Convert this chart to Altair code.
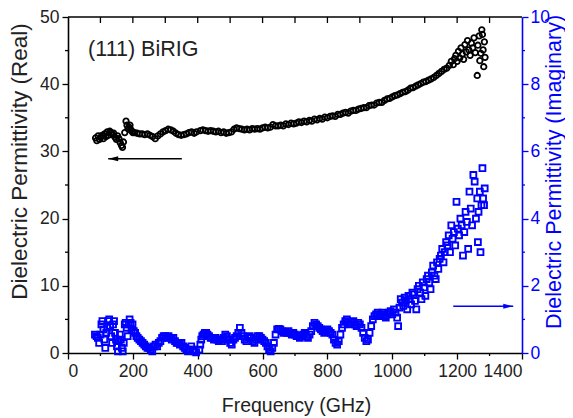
import altair as alt
import pandas as pd

FONT = "Liberation Sans"
BLUE = "#0000ff"
W, H = 454, 336

# ---------------- data ----------------
freq_real = [85, 89, 93, 97, 101, 105, 109, 113, 117, 121, 125, 129, 133, 137, 141, 145, 149, 153, 157, 161,
             165, 168, 171, 175, 179, 182, 185, 188, 191, 194, 197, 200,
             205, 213, 221, 229, 237, 245, 253, 261, 269, 277, 285, 293, 301, 309, 317, 325, 333, 341, 349,
             357, 365, 373, 381, 389, 396,
             408, 416, 424, 432, 440, 448, 456, 464, 472, 480, 488, 496, 504, 512, 520, 528, 536, 544, 552,
             560, 568, 576, 584, 592, 600, 608, 616, 624, 632, 640, 648, 656, 664, 672, 680, 688, 696, 704,
             712, 720, 728, 736, 744, 752, 760, 768, 776, 784, 792, 800, 808, 816, 824, 832, 840, 848, 856,
             864, 872, 880, 888, 896, 904, 912, 920, 928, 936, 944, 952, 960, 968, 976, 984, 992, 1000,
             1008, 1016, 1024, 1032, 1040, 1048, 1056, 1064, 1072, 1080, 1088, 1096, 1104, 1112, 1120, 1128,
             1136, 1144, 1152, 1160, 1168, 1176, 1182, 1188, 1192, 1196,
             1200, 1204, 1208, 1212, 1216, 1220, 1224, 1228, 1232, 1236, 1240, 1244, 1248, 1252, 1256, 1262,
             1264, 1268, 1270, 1273, 1276, 1278, 1280, 1282, 1284, 1286]
eps_real = [32.0, 31.6, 32.3, 31.8, 32.1, 32.4, 31.9, 32.6, 32.2, 32.9, 32.4, 33.0, 32.8, 32.5, 32.7, 32.1, 31.8, 32.3, 31.9, 31.3,
            30.9, 30.6, 31.4, 32.8, 34.5, 33.9, 33.4, 33.6, 33.9, 33.2, 33.0, 32.8,
            32.8, 32.7, 32.6, 32.6, 32.5, 32.6, 32.4, 32.2, 31.9, 32.3, 32.6, 32.9, 33.1, 33.3, 33.2, 33.0, 32.7, 32.5, 32.4,
            32.5, 32.6, 32.8, 32.9, 32.7, 32.9,
            33.1, 33.2, 33.1, 33.0, 33.1, 33.0, 32.9, 33.0, 32.8, 32.9, 32.7, 32.8, 32.9, 33.3, 33.5, 33.4, 33.3, 33.2, 33.3,
            33.2, 33.4, 33.3, 33.4, 33.3, 33.5, 33.6, 33.5, 33.6, 34.0, 33.8, 33.8, 33.9, 33.8, 34.1, 34.0, 34.2, 34.1, 34.2,
            34.4, 34.3, 34.5, 34.4, 34.6, 34.5, 34.8, 34.7, 34.9, 34.8, 35.1, 35.0, 35.2, 35.3, 35.2, 35.5, 35.5, 35.7, 35.8,
            35.7, 36.0, 36.1, 36.1, 36.3, 36.4, 36.5, 36.5, 36.8, 36.9, 36.9, 37.2, 37.3, 37.3, 37.6, 37.8, 37.9, 38.1,
            38.3, 38.4, 38.6, 38.8, 38.9, 39.1, 39.4, 39.5, 39.7, 39.9, 40.1, 40.3, 40.4, 40.6, 40.8, 41.0,
            41.3, 41.6, 41.9, 42.2, 42.4, 42.8, 43.4, 42.9, 43.8, 44.3,
            43.4, 44.9, 43.9, 45.4, 44.5, 43.7, 45.9, 44.8, 46.5, 45.1, 44.3, 46.1, 45.4, 46.9, 44.7, 41.3,
            45.8, 47.2, 43.5, 44.6, 48.1, 47.4, 45.1, 42.6, 46.3, 44.0]

freq_imag = [83, 88, 92, 96, 100, 103, 106, 109, 112, 115, 118, 121, 124, 127, 130, 133, 136, 139, 142, 145,
             148, 151, 154, 157, 160, 163, 166, 169, 172, 175, 178, 181, 184, 187, 190, 193, 196, 199,
             203, 207, 211, 215, 220, 225, 230, 235, 240, 245, 250, 255, 260, 265, 270, 275, 280, 285, 290,
             295, 300, 305, 310, 315, 320, 325, 330, 335, 340, 345, 350, 355, 360, 365, 370, 375, 380, 385,
             390, 395,
             405, 408, 411, 414, 418, 422, 426, 430, 435, 440, 445, 450, 455, 460, 465, 470, 475, 480, 485,
             490, 495, 500, 505, 510, 515, 520, 525, 530, 535, 540, 545, 550, 555, 560, 565, 570, 575, 580,
             585, 590, 595, 600, 605, 610, 615, 620, 625, 630, 635, 640, 645, 650, 655, 660, 665, 670, 675,
             680, 685, 690, 695, 700, 705, 710, 715, 720, 725, 730, 735, 740, 745, 750, 755, 760, 765, 770,
             775, 780, 785, 790, 795, 800, 805, 810, 815, 820, 825, 830, 835, 840, 845, 850, 855, 860, 865,
             870, 875, 880, 885, 890, 895, 900, 905, 910, 915, 920, 925, 930, 935, 940, 945, 950, 955, 960,
             965, 970, 975, 980, 985, 990, 995, 1000, 1005, 1010, 1015, 1018, 1022, 1026, 1030, 1034, 1038,
             1042, 1046, 1050, 1054, 1058, 1062, 1066, 1070, 1074, 1078, 1082, 1086, 1090, 1094, 1098, 1102,
             1106, 1110, 1114, 1118, 1122, 1126, 1130, 1134, 1138, 1142, 1146, 1150, 1154, 1158, 1162, 1166,
             1170, 1174, 1178, 1182, 1186, 1190, 1194, 1198, 1202, 1206, 1210, 1214, 1218, 1222, 1226, 1230,
             1234, 1238, 1242, 1246, 1250, 1254, 1258, 1262, 1264, 1266, 1270, 1272, 1275, 1278, 1280, 1283,
             1285]
eps_imag = [0.55, 0.50, 0.45, 0.30, 0.55, 0.85, 0.95, 0.70, 0.40, 0.15, 0.60, 0.75, 0.95, 1.00, 0.80, 0.50, 0.30, 0.85, 0.95, 0.60,
            0.40, 0.20, 0.05, 0.35, 0.55, 0.40, 0.15, 0.05, 0.30, 0.85, 0.90, 0.75, 0.50, 0.85, 1.00, 0.90, 0.70, 0.85,
            0.65, 0.60, 0.50, 0.45, 0.40, 0.35, 0.30, 0.25, 0.20, 0.15, 0.15, 0.10, 0.05, 0.20, 0.25, 0.20, 0.30, 0.35, 0.45,
            0.50, 0.50, 0.45, 0.50, 0.45, 0.40, 0.45, 0.35, 0.30, 0.30, 0.25, 0.30, 0.20, 0.15, 0.10, 0.05, 0.10, 0.20, 0.10,
            0.05, 0.02,
            0.10, 0.25, 0.40, 0.50, 0.55, 0.60, 0.60, 0.55, 0.50, 0.45, 0.45, 0.40, 0.45, 0.40, 0.35, 0.40, 0.35, 0.45, 0.55,
            0.50, 0.40, 0.30, 0.25, 0.40, 0.45, 0.50, 0.60, 0.75, 0.60, 0.50, 0.40, 0.35, 0.45, 0.50, 0.45, 0.35, 0.30, 0.40,
            0.50, 0.50, 0.45, 0.40, 0.35, 0.30, 0.20, 0.10, 0.05, 0.15, 0.30, 0.55, 0.70, 0.72, 0.70, 0.65, 0.60, 0.62, 0.60,
            0.65, 0.60, 0.55, 0.60, 0.55, 0.50, 0.50, 0.45, 0.50, 0.55, 0.60, 0.50, 0.45, 0.55, 0.65, 0.80, 0.90, 0.85, 0.80,
            0.75, 0.70, 0.65, 0.60, 0.65, 0.70, 0.65, 0.60, 0.55, 0.40, 0.30, 0.25, 0.35, 0.55, 0.75, 0.85, 0.95, 1.00, 0.90,
            0.85, 0.90, 0.95, 0.85, 0.80, 0.90, 0.85, 0.75, 0.60, 0.45, 0.35, 0.40, 0.60, 0.80, 1.00, 1.10, 1.15, 1.20, 1.10,
            1.15, 1.20, 1.10, 1.05, 1.15, 1.20, 1.25, 1.15, 1.30, 1.20, 1.05, 0.80, 1.35, 1.60, 1.50, 1.40, 1.65,
            1.55, 1.30, 1.70, 1.60, 1.45, 1.80, 1.75, 1.55, 1.30, 1.90, 2.00, 1.80, 1.60, 2.10, 1.95, 1.70,
            2.20, 2.30, 2.10, 1.90, 2.40, 2.60, 2.30, 2.20, 2.70, 2.50, 2.80, 2.90, 3.10, 2.70, 3.00, 3.30,
            3.20, 3.50, 3.00, 3.80, 3.40, 3.60, 3.20, 4.50, 3.70, 3.50, 4.00, 3.80, 2.90, 3.60, 4.20, 3.90,
            3.10, 4.80, 4.30, 3.80, 5.30, 5.10, 4.00, 4.60, 3.30, 4.20, 4.80, 3.00, 4.40, 5.50, 4.60, 4.40,
            4.90]

real_major = [0, 10, 20, 30, 40, 50]
real_minor = [5, 15, 25, 35, 45]
imag_major = [0, 2, 4, 6, 8, 10]
imag_minor = [1, 3, 5, 7, 9]
freq_major = [0, 200, 400, 600, 800, 1000, 1200, 1400]
freq_minor = [100, 300, 500, 700, 900, 1100, 1300]
freq_top = [100, 200, 300, 400, 500, 600, 700, 800, 900, 1000, 1100, 1200, 1300]

# annotation arrows (data coordinates)
arrow_real_from, arrow_real_to, arrow_real_y = 351, 124, 28.9
arrow_imag_from, arrow_imag_to, arrow_imag_y = 1188, 1373, 1.39
label_text, label_x, label_y = "(111) BiRIG", 62, 44.2

# ---------------- chart ----------------
df_real = pd.DataFrame({"f": freq_real, "v": eps_real})
df_imag = pd.DataFrame({"f": freq_imag, "v": eps_imag})

xscale = alt.Scale(domain=[0, 1400], nice=False, zero=False)
yreal = alt.Scale(domain=[0, 50], nice=False)
yimag = alt.Scale(domain=[0, 10], nice=False)

x_axis = alt.Axis(values=freq_major, format="d", grid=False, orient="bottom", tickSize=6, tickWidth=1.3,
                  tickColor="black", domainColor="black", domainWidth=1.6, labelFont=FONT, labelFontSize=17.5,
                  labelColor="#222222", labelPadding=3, title="Frequency (GHz)", titleFont=FONT,
                  titleFontSize=19.5, titleFontWeight="normal", titleColor="#222222",
                  titleX=228, titleY=58, titleAlign="center", titleBaseline="alphabetic", titleAngle=0)
yreal_axis = alt.Axis(values=real_major, format="d", grid=False, orient="left", tickSize=6, tickWidth=1.3,
                      tickColor="black", domainColor="black", domainWidth=1.6, labelFont=FONT,
                      labelFontSize=17.5, labelColor="#222222", labelPadding=3,
                      title="Dielectric Permittivity (Real)", titleFont=FONT, titleFontSize=22.5,
                      titleFontWeight="normal", titleColor="#222222",
                      titleX=-42, titleY=144, titleAlign="center", titleBaseline="alphabetic", titleAngle=270)
yimag_axis = alt.Axis(values=imag_major, format="d", grid=False, orient="right", tickSize=6, tickWidth=1.3,
                      tickColor=BLUE, domainColor=BLUE, domainWidth=1.6, labelFont=FONT, labelFontSize=17.5,
                      labelColor=BLUE, labelPadding=2, title="Dielectric Permittivity (Imaginary)",
                      titleFont=FONT, titleFontSize=21.5, titleFontWeight="normal", titleColor=BLUE,
                      titleX=38, titleY=154.5, titleAlign="center", titleBaseline="alphabetic", titleAngle=270)

X = lambda field: alt.X(field, scale=xscale, axis=x_axis)
YR = lambda field: alt.Y(field, scale=yreal, axis=yreal_axis)
YI = lambda field: alt.Y(field, scale=yimag, axis=yimag_axis)

one = pd.DataFrame({"k": [0]})

pts_real = alt.Chart(df_real).mark_point(shape="circle", filled=False, size=30, strokeWidth=1.8,
                                         color="black", opacity=1).encode(x=X("f:Q"), y=YR("v:Q"))

real_minor_ticks = alt.Chart(pd.DataFrame({"v": real_minor})).mark_rule(color="black", strokeWidth=1.3).encode(
    y=YR("v:Q"), x=alt.value(-3), x2=alt.value(0))

x_minor_ticks = alt.Chart(pd.DataFrame({"f": freq_minor})).mark_rule(color="black", strokeWidth=1.3).encode(
    x=X("f:Q"), y=alt.value(H), y2=alt.value(H + 3))

top_ticks = alt.Chart(pd.DataFrame({"f": freq_top})).mark_rule(color="black", strokeWidth=1.3).encode(
    x=X("f:Q"), y=alt.value(0), y2=alt.value(6))

top_border = alt.Chart(one).mark_rule(color="black", strokeWidth=1.6).encode(
    x=alt.value(0), x2=alt.value(W), y=alt.value(0))

arrow_r = pd.DataFrame({"a": [arrow_real_from], "b": [arrow_real_to], "v": [arrow_real_y]})
arrow_r_line = alt.Chart(arrow_r).mark_rule(color="black", strokeWidth=1.5).encode(
    x=X("a:Q"), x2="b:Q", y=YR("v:Q"))
arrow_r_head = alt.Chart(arrow_r).mark_point(shape="M 0 0 L 2 -0.5 L 2 0.5 Z", filled=True, size=100,
                                             color="black", opacity=1).encode(x=X("b:Q"), y=YR("v:Q"))

label = alt.Chart(pd.DataFrame({"t": [label_text], "f": [label_x], "v": [label_y]})).mark_text(
    align="left", baseline="alphabetic", font=FONT, fontSize=21.5, color="#222222").encode(
    x=X("f:Q"), y=YR("v:Q"), text="t:N")

pts_imag = alt.Chart(df_imag).mark_point(shape="square", filled=False, size=34, strokeWidth=1.9,
                                         color=BLUE, opacity=1).encode(x=X("f:Q"), y=YI("v:Q"))

imag_minor_ticks = alt.Chart(pd.DataFrame({"v": imag_minor})).mark_rule(color=BLUE, strokeWidth=1.3).encode(
    y=YI("v:Q"), x=alt.value(W), x2=alt.value(W + 3))

arrow_i = pd.DataFrame({"a": [arrow_imag_from], "b": [arrow_imag_to], "v": [arrow_imag_y]})
arrow_i_line = alt.Chart(arrow_i).mark_rule(color=BLUE, strokeWidth=1.5).encode(
    x=X("a:Q"), x2="b:Q", y=YI("v:Q"))
arrow_i_head = alt.Chart(arrow_i).mark_point(shape="M 0 0 L -2 -0.5 L -2 0.5 Z", filled=True, size=100,
                                             color=BLUE, opacity=1).encode(x=X("b:Q"), y=YI("v:Q"))

black_group = alt.layer(pts_real, real_minor_ticks, x_minor_ticks, top_ticks, top_border,
                        arrow_r_line, arrow_r_head, label)
blue_group = alt.layer(pts_imag, imag_minor_ticks, arrow_i_line, arrow_i_head)

chart = alt.layer(black_group, blue_group).resolve_scale(y="independent").properties(
    width=W, height=H,
    autosize=alt.AutoSizeParams(type="none"),
    padding={"left": 60, "top": 9, "right": 43, "bottom": 64},
).configure_view(stroke=None)

chart.save("out.html", embed_options={"renderer": "svg", "actions": False})
